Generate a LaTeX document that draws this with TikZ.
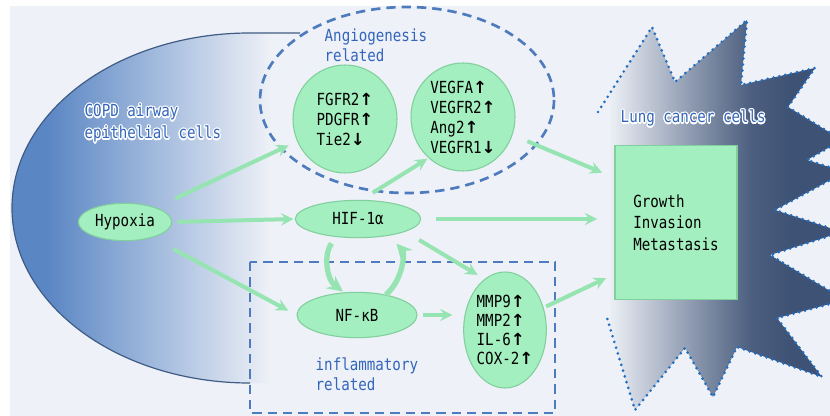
\documentclass[tikz,border=0pt]{standalone}
\usepackage{fontspec}
\setmainfont[FakeStretch=0.85]{DejaVu Sans Mono}
\newfontfamily\arrowfont{DejaVu Sans}
\usepackage{contour}
\contourlength{0.9pt}
\usepackage{tikz}
\usetikzlibrary{shapes.geometric, arrows}
\usepackage{color,xcolor}

\definecolor{paper}{HTML}{EEF1F7}
\definecolor{copdblue}{HTML}{5A86C4}
\definecolor{rimblue}{HTML}{3F5C85}
\definecolor{dashblue}{HTML}{4E7BBE}
\definecolor{labelblue}{HTML}{3366BB}
\definecolor{dotblue}{HTML}{1F6DC2}
\definecolor{navy}{HTML}{3E5275}
\definecolor{mint}{HTML}{A3EFBF}
\definecolor{mintrim}{HTML}{80CF9C}
\definecolor{arrowmint}{HTML}{96E4B1}

\pgfdeclarehorizontalshading{copdfade}{100bp}{color(0bp)=(copdblue); color(31bp)=(copdblue); color(70bp)=(paper); color(100bp)=(paper)}
\pgfdeclarehorizontalshading{tumourfade}{100bp}{color(0bp)=(paper); color(27bp)=(paper); color(44bp)=(navy!55!paper); color(56bp)=(navy!92!paper); color(64bp)=(navy); color(100bp)=(navy)}

\newcommand{\halo}[1]{\contour{white}{#1}}
\newcommand{\upmark}{{\arrowfont\bfseries ↑}}
\newcommand{\downmark}{{\arrowfont\bfseries ↓}}

\begin{document}
\begin{tikzpicture}[x=0.75pt, y=-0.75pt,
  pill/.style={ellipse, fill=mint, draw=mintrim, line width=0.8pt, inner sep=0pt, align=left, font=\fontsize{12.5}{15}\selectfont},
  block/.style={rectangle, fill=mint, draw=mintrim, line width=0.8pt, inner sep=0pt, align=left, font=\fontsize{12.5}{16}\selectfont},
  flow/.style={-stealth, line width=3pt, arrowmint},
  swirl/.style={-stealth, line width=4pt, arrowmint},
  zone/.style={dashblue, line width=2pt, dash pattern=on 7pt off 4.5pt},
  note/.style={labelblue, anchor=west, align=left, font=\fontsize{12.5}{15}\selectfont}]
  \useasboundingbox (0,0) rectangle (830,416);
  \fill[paper] (10,6) rectangle (830,416);

  % COPD airway epithelium
  \shade[shading=copdfade] (300,33) -- (250,33) arc[start angle=-90, end angle=-270, x radius=238, y radius=175] -- (300,383) -- cycle;
  \draw[rimblue, line width=0.9pt] (300,33) -- (250,33) arc[start angle=-90, end angle=-270, x radius=238, y radius=175];

  % lung cancer cells
  \begin{scope}
    \clip (0,0) rectangle (830,416);
    \shade[shading=tumourfade] (598,112) -- (652,27) -- (675,82) -- (747,20) -- (741,85) -- (815,68) -- (788,107) -- (842,140) -- (807,160) -- (845,172) -- (775,210) -- (842,232) -- (770,255) -- (845,300) -- (777,318) -- (822,377) -- (737,347) -- (713,397) -- (685,348) -- (635,410) -- (607,318) -- cycle;
    \draw[dotblue, line width=2.2pt, line cap=round, dash pattern=on 0pt off 4.5pt] (598,112) -- (652,27) -- (675,82) -- (747,20) -- (741,85) -- (815,68) -- (788,107) -- (842,140) -- (807,160) -- (845,172) -- (775,210) -- (842,232) -- (770,255) -- (845,300) -- (777,318) -- (822,377) -- (737,347) -- (713,397) -- (685,348) -- (635,410) -- (607,318);
  \end{scope}

  % groups
  \draw[zone] (407,100) ellipse [x radius=147, y radius=93];
  \draw[zone] (250,262) rectangle (555,413);

  \node[note, font=\fontsize{12.5}{16.5}\selectfont] (copd) at (80,124) {\halo{COPD airway}\\\halo{epithelial cells}};
  \node[note] (angio) at (320,45) {Angiogenesis\\related};
  \node[note] (inflam) at (311,374) {inflammatory\\related};
  \node[note] (lung) at (616,119) {\halo{Lung cancer cells}};

  \node[pill, minimum width=70pt, minimum height=28pt] (hypoxia) at (125,222) {Hypoxia};
  \node[pill, minimum width=78pt, minimum height=81pt] (fgfr) at (345,119) {FGFR2\upmark\\PDGFR\upmark\\Tie2\downmark};
  \node[pill, minimum width=78pt, minimum height=81pt] (vegf) at (463,117) {VEGFA\upmark\\VEGFR2\upmark\\Ang2\upmark\\VEGFR1\downmark};
  \node[pill, minimum width=94pt, minimum height=28pt] (hif) at (358,219) {HIF-1α};
  \node[pill, minimum width=90pt, minimum height=34pt] (nfkb) at (357,315) {NF-κB};
  \node[pill, minimum width=62pt, minimum height=87pt, font=\fontsize{12.5}{14.3}\selectfont] (mmp) at (505,330) {MMP9\upmark\\MMP2\upmark\\IL-6\upmark\\COX-2\upmark};
  \node[block, minimum width=91.5pt, minimum height=116pt] (outcome) at (676,222.5) {Growth\\Invasion\\Metastasis};

  \draw[flow, shorten <=16pt, shorten >=7pt] (hypoxia) -- (fgfr);
  \draw[flow, shorten <=4pt, shorten >=1pt] (hypoxia.east) -- (hif.west);
  \draw[flow, shorten <=18pt, shorten >=7pt] (hypoxia.-30) -- (nfkb.west);
  \draw[flow, shorten <=10pt, shorten >=1pt] (hif.80) -- (vegf.230);
  \draw[flow, shorten <=12pt, shorten >=10pt] (vegf.-20) -- (outcome.144);
  \draw[flow, shorten <=11pt, shorten >=13pt] (hif.east) -- (hif.east -| outcome.west);
  \draw[flow, shorten <=12pt, shorten >=6pt] (hif.-15) -- (mmp.112);
  \draw[flow, shorten <=4pt, shorten >=8pt] (nfkb.east) -- (nfkb.east -| mmp.west);
  \draw[flow, shorten <=2pt, shorten >=7pt] (mmp.30) -- (outcome.220);
  \draw[swirl, shorten <=6pt, shorten >=1pt] (hif.220) to[bend right=45] (nfkb.120);
  \draw[swirl, shorten >=8pt] (nfkb.35) to[bend right=45] (hif.-28);
\end{tikzpicture}
\end{document}
